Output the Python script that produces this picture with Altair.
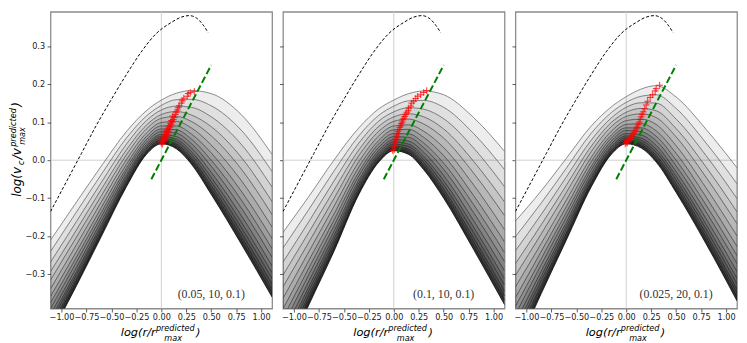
import altair as alt
import pandas as pd

# ---------------- data ----------------
X_GRID = [-1.11, -0.85, -0.6, -0.35, -0.15, 0.0, 0.15, 0.3, 0.5, 0.8, 1.11]

P1_CURVES = [
    [-0.460, -0.330, -0.200, -0.070, 0.015, 0.043, 0.030, -0.010, -0.090, -0.220, -0.360],
    [-0.453, -0.323, -0.194, -0.066, 0.018, 0.046, 0.034, -0.004, -0.082, -0.210, -0.349],
    [-0.445, -0.317, -0.189, -0.061, 0.022, 0.050, 0.039, 0.002, -0.074, -0.200, -0.338],
    [-0.438, -0.310, -0.183, -0.057, 0.025, 0.053, 0.043, 0.007, -0.066, -0.189, -0.326],
    [-0.428, -0.301, -0.176, -0.051, 0.030, 0.058, 0.049, 0.015, -0.056, -0.176, -0.311],
    [-0.418, -0.293, -0.169, -0.045, 0.035, 0.063, 0.055, 0.023, -0.045, -0.162, -0.296],
    [-0.405, -0.282, -0.159, -0.038, 0.040, 0.068, 0.062, 0.033, -0.032, -0.145, -0.278],
    [-0.390, -0.268, -0.148, -0.029, 0.047, 0.075, 0.071, 0.044, -0.016, -0.125, -0.255],
    [-0.375, -0.255, -0.137, -0.021, 0.054, 0.082, 0.080, 0.056, 0.000, -0.104, -0.233],
    [-0.358, -0.240, -0.124, -0.011, 0.062, 0.090, 0.090, 0.069, 0.019, -0.081, -0.206],
    [-0.338, -0.222, -0.109, 0.001, 0.071, 0.099, 0.102, 0.085, 0.040, -0.053, -0.176],
    [-0.315, -0.202, -0.093, 0.014, 0.082, 0.110, 0.115, 0.102, 0.064, -0.023, -0.143],
    [-0.293, -0.183, -0.076, 0.027, 0.092, 0.120, 0.128, 0.119, 0.088, 0.008, -0.109],
    [-0.268, -0.161, -0.058, 0.042, 0.104, 0.132, 0.142, 0.139, 0.114, 0.042, -0.071],
    [-0.240, -0.136, -0.037, 0.058, 0.116, 0.144, 0.159, 0.160, 0.143, 0.079, -0.030],
    [-0.210, -0.110, -0.015, 0.075, 0.130, 0.158, 0.176, 0.183, 0.175, 0.120, 0.015],
]

P2_CURVES = [
    [-0.530, -0.380, -0.240, -0.090, -0.005, 0.025, 0.015, -0.025, -0.100, -0.235, -0.380],
    [-0.520, -0.371, -0.233, -0.085, -0.001, 0.029, 0.020, -0.019, -0.092, -0.225, -0.368],
    [-0.510, -0.363, -0.226, -0.080, 0.003, 0.033, 0.025, -0.013, -0.084, -0.214, -0.356],
    [-0.499, -0.354, -0.218, -0.074, 0.008, 0.037, 0.029, -0.006, -0.076, -0.204, -0.344],
    [-0.486, -0.343, -0.209, -0.067, 0.013, 0.042, 0.036, 0.002, -0.065, -0.190, -0.328],
    [-0.472, -0.332, -0.199, -0.060, 0.019, 0.048, 0.042, 0.010, -0.054, -0.176, -0.312],
    [-0.455, -0.317, -0.187, -0.052, 0.026, 0.054, 0.050, 0.021, -0.040, -0.159, -0.291],
    [-0.435, -0.300, -0.173, -0.041, 0.034, 0.062, 0.060, 0.033, -0.024, -0.138, -0.267],
    [-0.414, -0.283, -0.158, -0.031, 0.043, 0.070, 0.069, 0.045, -0.008, -0.117, -0.243],
    [-0.391, -0.263, -0.142, -0.018, 0.052, 0.080, 0.081, 0.060, 0.012, -0.093, -0.215],
    [-0.363, -0.240, -0.122, -0.004, 0.064, 0.090, 0.093, 0.076, 0.033, -0.065, -0.183],
    [-0.333, -0.215, -0.101, 0.012, 0.076, 0.102, 0.108, 0.095, 0.058, -0.034, -0.146],
    [-0.302, -0.189, -0.079, 0.027, 0.089, 0.114, 0.122, 0.114, 0.082, -0.003, -0.110],
    [-0.268, -0.161, -0.055, 0.045, 0.103, 0.127, 0.138, 0.134, 0.109, 0.032, -0.070],
    [-0.231, -0.129, -0.029, 0.064, 0.118, 0.142, 0.156, 0.157, 0.139, 0.070, -0.025],
    [-0.190, -0.095, 0.000, 0.085, 0.135, 0.158, 0.175, 0.182, 0.172, 0.112, 0.023],
]

P3_CURVES = [
    [-0.500, -0.350, -0.210, -0.070, 0.015, 0.043, 0.032, -0.005, -0.085, -0.220, -0.370],
    [-0.490, -0.342, -0.204, -0.065, 0.019, 0.047, 0.037, 0.001, -0.078, -0.211, -0.360],
    [-0.480, -0.334, -0.197, -0.060, 0.023, 0.050, 0.041, 0.007, -0.070, -0.202, -0.349],
    [-0.469, -0.326, -0.191, -0.056, 0.026, 0.054, 0.046, 0.013, -0.062, -0.193, -0.339],
    [-0.456, -0.315, -0.182, -0.049, 0.031, 0.059, 0.052, 0.021, -0.052, -0.181, -0.325],
    [-0.442, -0.304, -0.173, -0.043, 0.036, 0.064, 0.058, 0.029, -0.042, -0.169, -0.311],
    [-0.425, -0.291, -0.163, -0.035, 0.043, 0.070, 0.066, 0.039, -0.030, -0.154, -0.293],
    [-0.405, -0.274, -0.150, -0.025, 0.050, 0.078, 0.075, 0.051, -0.015, -0.136, -0.272],
    [-0.384, -0.258, -0.137, -0.016, 0.058, 0.085, 0.085, 0.063, 0.000, -0.118, -0.251],
    [-0.361, -0.239, -0.122, -0.004, 0.066, 0.094, 0.096, 0.077, 0.018, -0.097, -0.227],
    [-0.333, -0.218, -0.105, 0.008, 0.076, 0.104, 0.108, 0.094, 0.038, -0.073, -0.199],
    [-0.303, -0.193, -0.085, 0.023, 0.088, 0.115, 0.122, 0.112, 0.061, -0.045, -0.167],
    [-0.272, -0.169, -0.066, 0.037, 0.099, 0.126, 0.136, 0.130, 0.083, -0.018, -0.136],
    [-0.238, -0.142, -0.044, 0.053, 0.111, 0.139, 0.151, 0.150, 0.108, 0.012, -0.101],
    [-0.201, -0.112, -0.021, 0.071, 0.125, 0.152, 0.168, 0.172, 0.136, 0.045, -0.062],
    [-0.160, -0.080, 0.005, 0.090, 0.140, 0.167, 0.187, 0.196, 0.166, 0.081, -0.020],
]

DASH_X = [-1.11, -0.95, -0.8, -0.65, -0.5, -0.35, -0.2, -0.05, 0.1, 0.2, 0.28, 0.35, 0.42, 0.47]
DASH_Y = [-0.135, -0.056, 0.018, 0.092, 0.160, 0.225, 0.285, 0.333, 0.362, 0.376, 0.380, 0.374, 0.355, 0.335]

GREEN_X = [-0.1, 0.5]
GREEN_Y = [-0.05, 0.25]

P1_CROSS_X = [0.0, 0.01, 0.02, 0.0, 0.03, 0.015, 0.04, 0.025, 0.05, 0.035, 0.06, 0.045, 0.07, 0.055, 0.08,
              0.065, 0.09, 0.075, 0.1, 0.09, 0.11, 0.1, 0.12, 0.13, 0.115, 0.14, 0.15, 0.16, 0.17, 0.18,
              0.2, 0.21, 0.225, 0.26, 0.27, 0.29, 0.33]
P1_CROSS_Y = [0.045, 0.042, 0.048, 0.05, 0.052, 0.055, 0.058, 0.06, 0.063, 0.066, 0.068, 0.072, 0.074, 0.078, 0.08,
              0.084, 0.087, 0.09, 0.093, 0.097, 0.1, 0.104, 0.107, 0.112, 0.116, 0.12, 0.126, 0.132, 0.138, 0.143,
              0.15, 0.156, 0.163, 0.168, 0.175, 0.178, 0.181]
P2_CROSS_X = [-0.01, 0.005, 0.0, 0.015, 0.01, 0.025, 0.02, 0.035, 0.03, 0.045, 0.04, 0.055, 0.06, 0.07, 0.075,
              0.085, 0.09, 0.1, 0.11, 0.12, 0.13, 0.145, 0.15, 0.17, 0.18, 0.2, 0.22, 0.24, 0.27, 0.3, 0.33]
P2_CROSS_Y = [0.025, 0.028, 0.035, 0.038, 0.045, 0.05, 0.056, 0.06, 0.066, 0.07, 0.076, 0.08, 0.086, 0.09, 0.096,
              0.1, 0.106, 0.11, 0.115, 0.12, 0.126, 0.13, 0.137, 0.142, 0.15, 0.155, 0.162, 0.168, 0.172, 0.178, 0.183]
P3_CROSS_X = [-0.01, 0.0, 0.01, 0.02, 0.005, 0.03, 0.04, 0.05, 0.06, 0.07, 0.08, 0.09, 0.1, 0.11, 0.12, 0.13,
              0.14, 0.15, 0.16, 0.17, 0.185, 0.2, 0.215, 0.24, 0.265, 0.29, 0.3, 0.335]
P3_CROSS_Y = [0.043, 0.047, 0.045, 0.05, 0.052, 0.054, 0.057, 0.06, 0.064, 0.068, 0.072, 0.077, 0.082, 0.087,
              0.093, 0.1, 0.107, 0.114, 0.12, 0.127, 0.135, 0.145, 0.155, 0.165, 0.172, 0.182, 0.188, 0.197]

LABELS = ["(0.05, 10, 0.1)", "(0.1, 10, 0.1)", "(0.025, 20, 0.1)"]
LABEL_X = 0.5
LABEL_Y = -0.352

X_TICKS = [-1.0, -0.75, -0.5, -0.25, 0.0, 0.25, 0.5, 0.75, 1.0]
Y_TICKS = [-0.3, -0.2, -0.1, 0.0, 0.1, 0.2, 0.3]
X_DOMAIN = [-1.11, 1.11]
Y_DOMAIN = [-0.39, 0.39]

W, H = 224, 300


def piece(txt, x, y, size, angle=0):
    return alt.Chart(pd.DataFrame({"t": [txt]})).mark_text(
        align="left", baseline="alphabetic", font="DejaVu Sans", fontStyle="italic",
        fontSize=size, angle=angle, color="black"
    ).encode(x=alt.value(x), y=alt.value(y), text="t:N")


def panel(curves, cx, cy, label, first):
    xs = alt.Scale(domain=X_DOMAIN, nice=False, zero=False)
    ys = alt.Scale(domain=Y_DOMAIN, nice=False, zero=False)
    xax = alt.Axis(values=X_TICKS, format=".2f", title=None, grid=False, domain=False,
                   labelOverlap=False, labelFlush=False, labelBound=False, labelPadding=1.5)
    yax = alt.Axis(values=Y_TICKS, format=".1f", title=None, grid=False, domain=False,
                   labels=first, labelOverlap=False, labelFlush=False, labelPadding=2.5)
    X = lambda f: alt.X(f, scale=xs, axis=xax)
    Y = lambda f: alt.Y(f, scale=ys, axis=yax)

    rows, bands = [], []
    for k, yv in enumerate(curves):
        for i, (xv, y) in enumerate(zip(X_GRID, yv)):
            rows.append({"k": k, "x": xv, "y": y})
            if k + 1 < len(curves):
                bands.append({"k": k, "x": xv, "y": y, "y2": curves[k + 1][i]})
    cdf = pd.DataFrame(rows)
    bdf = pd.DataFrame(bands)

    vrule = alt.Chart(pd.DataFrame({"x": [0.0]})).mark_rule(color="#cfcfcf", strokeWidth=1).encode(x=X("x:Q"))
    hrule = alt.Chart(pd.DataFrame({"y": [0.0]})).mark_rule(color="#cfcfcf", strokeWidth=1).encode(y=Y("y:Q"))

    shade = alt.Chart(bdf).mark_area(clip=True, color="black", interpolate="monotone").encode(
        x=X("x:Q"), y=Y("y:Q"), y2="y2:Q", detail="k:N",
        opacity=alt.Opacity("k:Q", scale=alt.Scale(domain=[0, 14], range=[0.8, 0.07]), legend=None),
    )
    lines = alt.Chart(cdf).mark_line(clip=True, strokeWidth=0.75, interpolate="monotone").encode(
        x=X("x:Q"), y=Y("y:Q"), detail="k:N",
        color=alt.Color("k:Q", scale=alt.Scale(domain=[0, 15], range=["#000000", "#666666"]), legend=None),
    )
    dash = alt.Chart(pd.DataFrame({"x": DASH_X, "y": DASH_Y})).mark_line(
        clip=True, color="black", strokeWidth=1, strokeDash=[3, 2], interpolate="monotone"
    ).encode(x=X("x:Q"), y=Y("y:Q"))
    crosses = alt.Chart(pd.DataFrame({"x": cx, "y": cy})).mark_point(
        shape="M-1,0L1,0M0,-1L0,1", size=45, color="#ff0000", filled=False, strokeWidth=1, opacity=0.8
    ).encode(x=X("x:Q"), y=Y("y:Q"))
    green = alt.Chart(pd.DataFrame({"x": GREEN_X, "y": GREEN_Y})).mark_line(
        color="#008000", strokeWidth=2, strokeDash=[7, 3]
    ).encode(x=X("x:Q"), y=Y("y:Q"))
    lab = alt.Chart(pd.DataFrame({"x": [LABEL_X], "y": [LABEL_Y], "t": [label]})).mark_text(
        font="Liberation Serif", fontSize=12, color="#333333", align="center", baseline="middle"
    ).encode(x=X("x:Q"), y=Y("y:Q"), text="t:N")

    layers = [vrule, hrule, shade, lines, dash, crosses, green, lab,
              piece("log(r/r", 71, H + 28, 11.5),
              piece("predicted", 106.5, H + 23, 8.2),
              piece("max", 115, H + 32.5, 8.2),
              piece(")", 147, H + 28, 11.5)]
    if first:
        layers += [
            piece("log(v", -29.5, 187, 12, 270),
            piece("c", -26.5, 155, 8.2, 270),
            piece("/v", -29.5, 149, 12, 270),
            piece("predicted", -35, 136.5, 8.2, 270),
            piece("max", -26, 134.5, 8.2, 270),
            piece(")", -29.5, 96, 12, 270),
        ]
    return alt.layer(*layers).properties(width=W, height=H)


p1 = panel(P1_CURVES, P1_CROSS_X, P1_CROSS_Y, LABELS[0], True)
p2 = panel(P2_CURVES, P2_CROSS_X, P2_CROSS_Y, LABELS[1], False)
p3 = panel(P3_CURVES, P3_CROSS_X, P3_CROSS_Y, LABELS[2], False)

chart = alt.hconcat(p1, p2, p3, spacing=11, bounds="flush",
                    padding={"left": 0, "top": 0, "right": 0, "bottom": 0}).configure_view(
    stroke="#8c8c8c", strokeWidth=1.3
).configure_axis(
    tickSize=3.5, tickWidth=0.8, tickColor="#333333",
    labelFont="DejaVu Sans", labelFontSize=8.2, labelColor="#222222"
)

chart.save("out.html", embed_options={"renderer": "svg", "actions": False})
